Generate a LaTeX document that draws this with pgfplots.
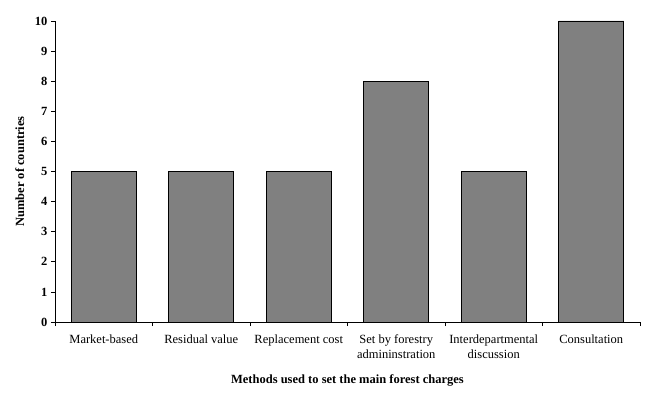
\documentclass[border=0pt]{standalone}
\usepackage{pgfplots}
\pgfplotsset{compat=1.18}
\usepackage{fontspec}
\setmainfont{Liberation Serif}
\begin{document}
\begin{tikzpicture}[x=1pt,y=1pt]
\begin{axis}[
  at={(0,0)}, anchor=south west,
  scale only axis, width=585pt, height=301pt,
  xmin=-0.5, xmax=5.5, ymin=0, ymax=10,
  axis x line*=bottom, axis y line*=left,
  axis line style={black, line width=0.8pt},
  tick align=outside,
  ytick={0,1,...,10},
  xtick={0,1,2,3,4,5},
  minor xtick={-0.5,0.5,1.5,2.5,3.5,4.5,5.5},
  major x tick style={draw=none},
  minor tick length=4pt, major tick length=4pt,
  tick style={black, line width=0.8pt},
  xticklabels={Market-based, Residual value, Replacement cost, {Set by forestry\\admininstration}, {Interdepartmental\\discussion}, Consultation},
  xticklabel style={align=center, font=\fontsize{12.5}{15}\selectfont, yshift=-5pt},
  /pgf/number format/assume math mode=true,
  yticklabel style={font=\bfseries\fontsize{12.5}{15}\selectfont},
  ylabel={Number of countries},
  ylabel style={at={(axis description cs:-0.06,0.5)}, anchor=center, font=\bfseries\fontsize{12.5}{15}\selectfont},
  xlabel={Methods used to set the main forest charges},
  xlabel style={at={(axis description cs:0.5,-0.193)}, anchor=center, font=\bfseries\fontsize{12.5}{15}\selectfont},
  clip=false,
]
\addplot[ybar, bar width=0.667, fill={rgb,255:red,128;green,128;blue,128}, draw=black, line width=0.8pt] coordinates {(0,5) (1,5) (2,5) (3,8) (4,5) (5,10)};
\end{axis}
\pgfresetboundingbox
\path[use as bounding box] (-55,-77) rectangle (595,322);
\end{tikzpicture}
\end{document}
